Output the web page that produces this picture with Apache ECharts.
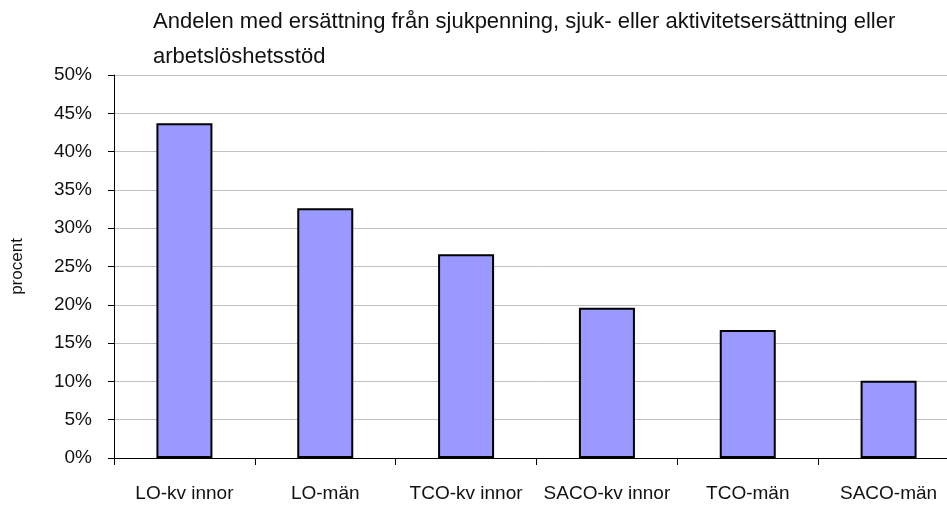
<!DOCTYPE html>
<html>
<head>
<meta charset="utf-8">
<script src="https://cdn.jsdelivr.net/npm/echarts@6/dist/echarts.min.js"></script>
<style>
  html, body { margin: 0; padding: 0; background: #fff; overflow: hidden; }
  #chart { width: 959px; height: 508px; }
</style>
</head>
<body>
<div id="chart"></div>
<script>
var categories = ['LO-kv innor', 'LO-män', 'TCO-kv innor', 'SACO-kv innor', 'TCO-män', 'SACO-män'];
var values = [43.7, 32.6, 26.6, 19.6, 16.7, 10.1];
var titleLines = ['Andelen med ersättning från sjukpenning, sjuk- eller aktivitetsersättning eller', 'arbetslöshetsstöd'];

// plot area runs a little past the right edge of the window, as in the original
var myChart = echarts.init(document.getElementById('chart'));
var option = {
  animation: false,
  textStyle: { fontFamily: 'Liberation Sans, Arial, sans-serif' },
  title: {
    text: titleLines.join('\n'),
    left: 153,
    top: 4,
    padding: 0,
    textStyle: { color: '#111', fontSize: 22, fontWeight: 'normal', lineHeight: 35 }
  },
  grid: { left: 114, right: 0, top: 75, bottom: 50, containLabel: false, outerBoundsMode: 'none' },
  xAxis: {
    type: 'category',
    data: categories,
    axisLine: { lineStyle: { color: '#000', width: 1 } },
    axisTick: { show: true, interval: 0, length: 7, lineStyle: { color: '#000' } },
    axisLabel: { color: '#111', fontSize: 19, margin: 26, interval: 0 }
  },
  yAxis: {
    type: 'value',
    min: 0,
    max: 50,
    interval: 5,
    name: 'procent',
    nameLocation: 'middle',
    nameGap: 88,
    nameRotate: 90,
    nameTextStyle: { color: '#111', fontSize: 17 },
    axisLine: { show: true, lineStyle: { color: '#000', width: 1 } },
    axisTick: { show: true, length: 6, lineStyle: { color: '#000' } },
    axisLabel: { color: '#111', fontSize: 19, margin: 22, formatter: '{value}%' },
    splitLine: { show: true, lineStyle: { color: '#c0c0c0', width: 1 } }
  },
  series: [{
    type: 'bar',
    data: values,
    barWidth: 56,
    itemStyle: { color: '#9999ff', borderColor: '#000', borderWidth: 2 }
  }]
};
myChart.setOption(option);
</script>
</body>
</html>
